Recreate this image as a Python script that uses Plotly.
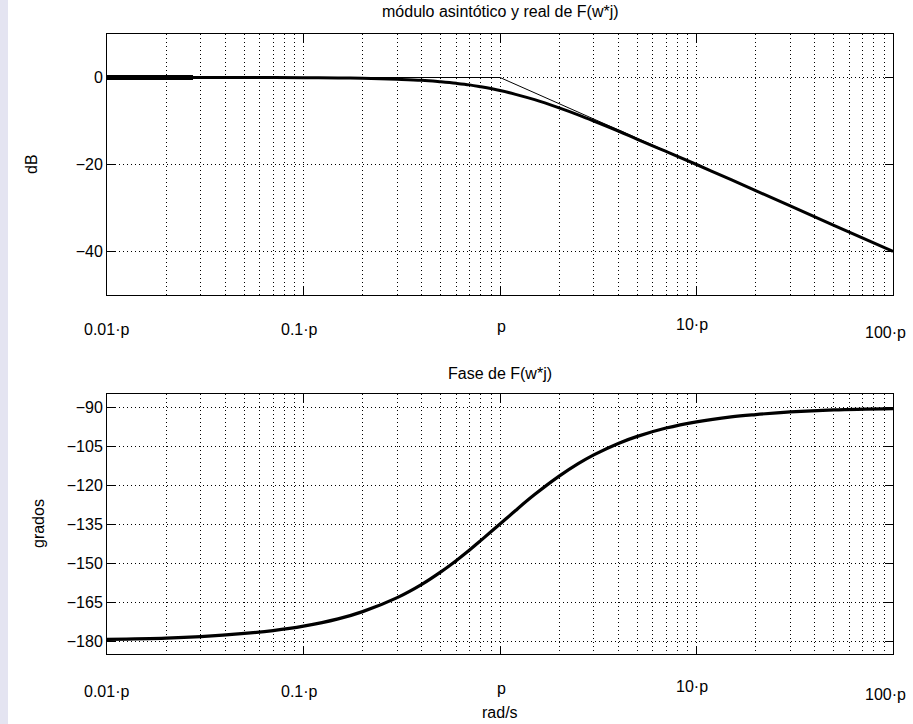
import numpy as np
import plotly.graph_objects as go
from plotly.subplots import make_subplots

# Frequencies (in units of p, rad/s) and the values read at each one
freq = [0.01, 0.02, 0.03, 0.05, 0.07, 0.1, 0.15, 0.2, 0.3, 0.4, 0.5, 0.6, 0.7, 0.8, 1,
        1.2, 1.5, 2, 2.5, 3, 4, 5, 7, 10, 15, 20, 30, 50, 100]
mag_db = [0.0, 0.0, 0.0, -0.01, -0.02, -0.04, -0.1, -0.17, -0.4, -0.64, -1.0, -1.34,
          -1.7, -2.15, -3.0, -3.87, -5.1, -7.0, -8.6, -10.0, -12.3, -14.2, -17.0,
          -20.0, -23.5, -26.0, -29.5, -34.0, -40.0]
phase_deg = [-179.4, -178.9, -178.3, -177.1, -176.0, -174.3, -171.5, -168.7, -163.3,
             -158.2, -153.4, -149.0, -145.0, -141.3, -135.0, -129.8, -123.7, -116.6,
             -111.8, -108.4, -104.0, -101.3, -98.1, -95.7, -93.8, -92.9, -91.9, -91.1,
             -90.6]

# Straight-line (asymptotic) magnitude
asym_freq = [0.01, 1, 100]
asym_db = [0, 0, -40]

# Short heavy segment at 0 dB on the left
heavy_freq = [0.01, 0.0274]
heavy_db = [0, 0]

decades = [0.01, 0.1, 1, 10, 100]
decade_text = ["0.01·p", "0.1·p", "p", "10·p", "100·p"]
mag_ticks = [-40, -20, 0]
phase_ticks = [-180, -165, -150, -135, -120, -105, -90]

W, H = 913, 724
L, R = 107, 893
top_box = (34, 295)
bot_box = (394, 654)

FONT = "Liberation Sans, Arial, sans-serif"


def dom(box):
    return [1 - box[1] / H, 1 - box[0] / H]


fig = make_subplots(rows=2, cols=1)

fig.add_trace(go.Scatter(x=asym_freq, y=asym_db, mode="lines",
                         line=dict(color="black", width=1), showlegend=False), 1, 1)
fig.add_trace(go.Scatter(x=freq, y=mag_db, mode="lines", line_shape="spline",
                         line=dict(color="black", width=3), showlegend=False), 1, 1)
fig.add_trace(go.Scatter(x=heavy_freq, y=heavy_db, mode="lines",
                         line=dict(color="black", width=5), showlegend=False), 1, 1)
fig.add_trace(go.Scatter(x=freq, y=phase_deg, mode="lines", line_shape="spline",
                         line=dict(color="black", width=3.2), showlegend=False), 2, 1)

minor_vals = [k * 10.0 ** d for d in range(-2, 2) for k in range(2, 10)]
dotted = "1px,3px"

xcommon = dict(type="log", range=[-2, 2], domain=[L / W, R / W],
               tickvals=decades, showticklabels=False,
               ticks="inside", ticklen=8, tickcolor="black", tickwidth=1,
               showline=True, linecolor="black", linewidth=1, mirror="ticks",
               showgrid=True, gridcolor="black", gridwidth=1, griddash=dotted,
               zeroline=False,
               minor=dict(tickmode="array", tickvals=minor_vals, showgrid=True,
                          gridcolor="black", gridwidth=1, griddash=dotted, ticks=""))
ycommon = dict(ticks="inside", ticklen=8, tickcolor="black", tickwidth=1,
               showline=True, linecolor="black", linewidth=1, mirror="ticks",
               showgrid=True, gridcolor="black", gridwidth=1, griddash=dotted,
               zeroline=False, tickfont=dict(family=FONT, size=16, color="black"))

fig.update_layout(
    xaxis=dict(xcommon, anchor="y"),
    xaxis2=dict(xcommon, anchor="y2"),
    yaxis=dict(ycommon, range=[-50, 10], tickvals=mag_ticks, domain=dom(top_box), anchor="x"),
    yaxis2=dict(ycommon, range=[-185, -85], tickvals=phase_ticks, domain=dom(bot_box), anchor="x2"),
    width=W, height=H,
    margin=dict(l=0, r=0, t=0, b=0),
    paper_bgcolor="white", plot_bgcolor="white",
    font=dict(family=FONT, size=15, color="black"),
)

# Decade labels under each panel
x_shift = [-1, -4, 1, -5, -8]
y_off = [34, 34, 31, 29, 37]
ann = []
for yref in ["y domain", "y2 domain"]:
    xref = "x" if yref == "y domain" else "x2"
    for v, t, dx, dy in zip(decades, decade_text, x_shift, y_off):
        ann.append(dict(x=np.log10(v), y=0, xref=xref, yref=yref, text=t,
                        showarrow=False, xanchor="center", yanchor="middle",
                        xshift=dx, yshift=-(dy + (3 if yref == "y2 domain" else 0)),
                        font=dict(family=FONT, size=16)))


def px_x(px):
    return (px - L) / (R - L)


def px_y(py):
    return 1 - py / H


ann += [
    dict(text="módulo asintótico y real de F(w*j)", x=0.5, y=px_y(12), xref="x domain",
         yref="paper", showarrow=False, yanchor="middle", font=dict(family=FONT, size=16)),
    dict(text="Fase de F(w*j)", x=0.5, y=px_y(373), xref="x2 domain",
         yref="paper", showarrow=False, yanchor="middle", font=dict(family=FONT, size=16)),
    dict(text="dB", x=px_x(32), y=px_y(164), xref="x domain", yref="paper",
         showarrow=False, textangle=-90, xanchor="center", yanchor="middle",
         font=dict(family=FONT, size=16)),
    dict(text="grados", x=px_x(38), y=px_y(524), xref="x2 domain", yref="paper",
         showarrow=False, textangle=-90, xanchor="center", yanchor="middle",
         font=dict(family=FONT, size=16)),
    dict(text="rad/s", x=0.5, y=px_y(712), xref="x2 domain", yref="paper",
         showarrow=False, xanchor="center", yanchor="middle",
         font=dict(family=FONT, size=16)),
]
fig.update_layout(annotations=ann)

# Lavender strip along the left edge of the page
fig.add_shape(type="rect", xref="paper", yref="paper",
              x0=0, x1=8 / W, y0=0, y1=1,
              fillcolor="#e4e4f1", line=dict(width=0), layer="below")

fig.write_html("out.html")
